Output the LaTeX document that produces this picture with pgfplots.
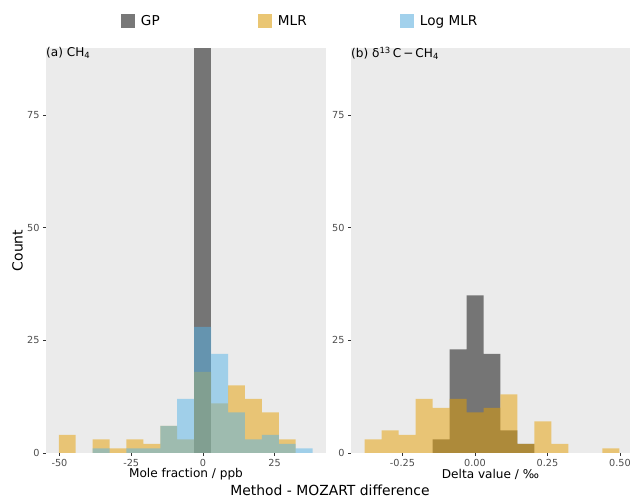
\documentclass[border=0pt]{standalone}
\usepackage{fontspec}
\setmainfont{DejaVu Sans}
\usepackage{pgfplots}
\pgfplotsset{compat=1.18}
\definecolor{bgcol}{HTML}{EBEBEB}
\definecolor{tickgray}{HTML}{333333}
\definecolor{labgray}{HTML}{4D4D4D}
\definecolor{gpcol}{HTML}{000000}
\definecolor{mlrcol}{HTML}{E69F00}
\definecolor{logcol}{HTML}{56B4E9}
\definecolor{gpkey}{HTML}{787878}
\definecolor{mlrkey}{HTML}{EAC673}
\definecolor{logkey}{HTML}{A2D1EC}
\pgfplotsset{
 panel/.style={
  scale only axis, height=405pt,
  axis background/.style={fill=bgcol},
  axis line style={draw=none},
  tick align=outside, major tick length=3pt,
  tick style={draw=tickgray, line width=0.5pt},
  xtick pos=bottom, ytick pos=left,
  ymin=0, ymax=89.9, ytick={0,25,50,75},
  /pgf/number format/assume math mode=true,
  tick label style={font=\fontsize{9.7}{11}\selectfont, text=labgray},
  xlabel style={font=\fontsize{12.1}{14}\selectfont, at={(rel axis cs:0.5,0)}, anchor=center, yshift=-21pt},
  clip mode=individual,
 },
 hbar/.style={ybar, bar shift=0pt, draw=none, fill opacity=0.5, forget plot},
}
\begin{document}
\begin{tikzpicture}
\useasboundingbox (0,0) rectangle (630pt,498pt);
\begin{axis}[panel, name=left, at={(46pt,45pt)}, anchor=south west, width=280pt,
  xmin=-54.7, xmax=42.9, xtick={-50,-25,0,25}, xticklabels={-50,-25,0,25},
  xlabel={Mole fraction / ppb},
  ylabel={Count},
  ylabel style={font=\fontsize{14}{16}\selectfont, at={(axis description cs:-0.1018,0.5)}, anchor=center},
  legend columns=3,
  legend cell align=left,
  legend image code/.code={\fill[#1, draw=none] (0pt,-7pt) rectangle (14pt,7pt);},
  legend style={at={(0.26786,1.06667)}, anchor=west, draw=none, fill=none, inner sep=0pt, outer sep=0pt,
    nodes={inner sep=0pt, outer sep=0pt},
    font=\fontsize{13.6}{16}\selectfont,
    /tikz/every odd column/.style={column sep=6pt}},
]
\addlegendimage{fill=gpkey, draw=none}
\addlegendentry{\makebox[117pt][l]{GP}}
\addlegendimage{fill=mlrkey, draw=none}
\addlegendentry{\makebox[122pt][l]{MLR}}
\addlegendimage{fill=logkey, draw=none}
\addlegendentry{Log MLR}
\addplot[hbar, bar width=5.9, fill=gpcol] coordinates {(-0.1,90)};
\addplot[hbar, bar width=5.9, fill=mlrcol] coordinates {
(-47.3,4) (-35.5,3) (-29.6,1) (-23.7,3) (-17.8,2) (-11.9,6) (-6.0,3)
(-0.1,18) (5.8,11) (11.7,15) (17.6,12) (23.5,9) (29.4,3)};
\addplot[hbar, bar width=5.9, fill=logcol] coordinates {
(-35.5,1) (-23.7,1) (-17.8,1) (-11.9,6) (-6.0,12) (-0.1,28) (5.8,22)
(11.7,9) (17.6,3) (23.5,4) (29.4,2) (35.3,1)};
\node[anchor=north west, inner sep=0pt, font=\fontsize{12.1}{14}\selectfont, yshift=1pt] at (rel axis cs:0,1) {(a) CH\textsubscript{4}};
\end{axis}
\begin{axis}[panel, name=right, at={(351pt,45pt)}, anchor=south west, width=279pt,
  xmin=-0.4276, xmax=0.5345, xtick={-0.25,0,0.25,0.5}, xticklabels={-0.25,0.00,0.25,0.50},
  xlabel={Delta value / ‰},
]
\addplot[hbar, bar width=0.0586, fill=gpcol] coordinates {
(-0.1172,3) (-0.0586,23) (0,35) (0.0586,22) (0.1172,5) (0.1758,2)};
\addplot[hbar, bar width=0.0586, fill=mlrcol] coordinates {
(-0.3516,3) (-0.2930,5) (-0.2344,4) (-0.1758,12) (-0.1172,10) (-0.0586,12)
(0,9) (0.0586,10) (0.1172,13) (0.1758,2) (0.2344,7) (0.2930,2) (0.4688,1)};
\node[anchor=north west, inner sep=0pt, font=\fontsize{12.1}{14}\selectfont, yshift=1pt] at (rel axis cs:0,1) {(b) δ\textsuperscript{13}\,C\,−\,CH\textsubscript{4}};
\end{axis}
\node[anchor=base, font=\fontsize{13.9}{16}\selectfont, inner sep=0pt] at (330pt,2.6pt) {Method - MOZART difference};
\end{tikzpicture}
\end{document}
